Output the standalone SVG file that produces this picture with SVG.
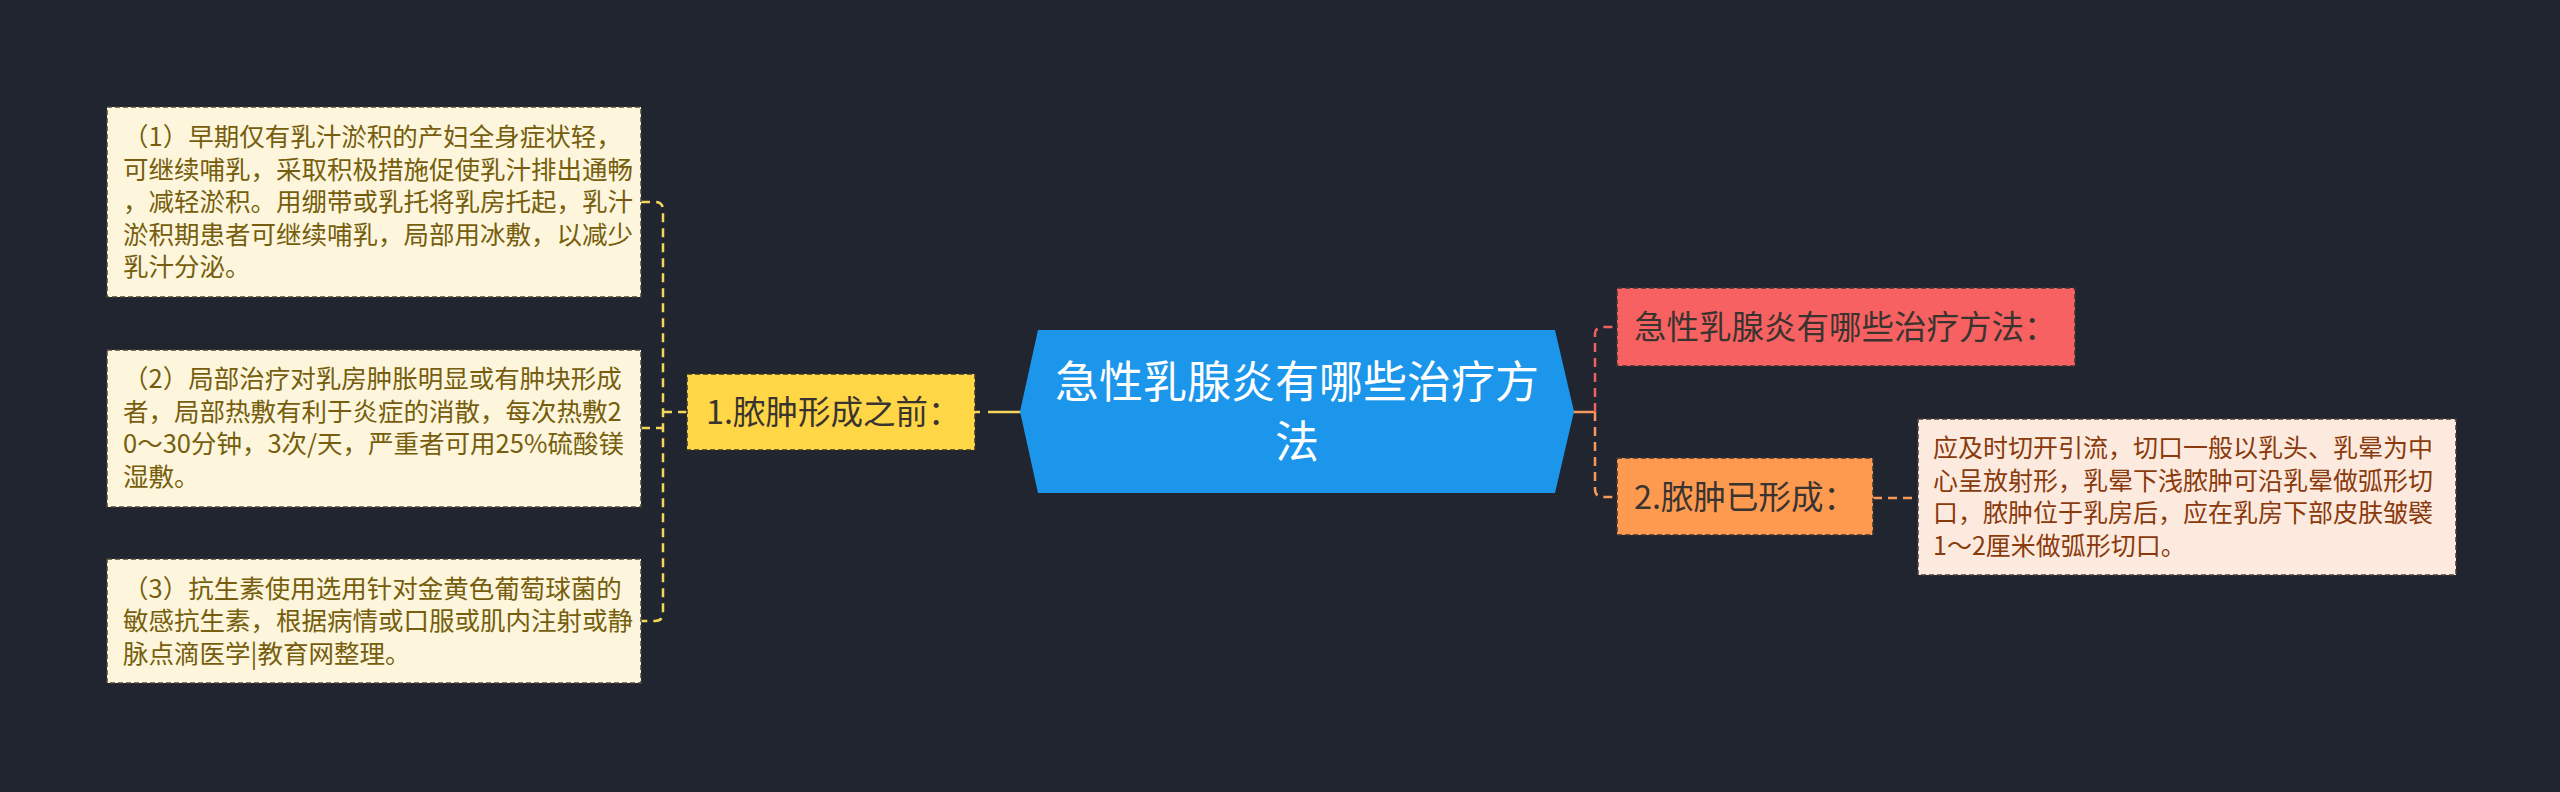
<svg xmlns="http://www.w3.org/2000/svg" width="2560" height="792" viewBox="0 0 2560 792">
<style>
text{font-family:"Noto Sans CJK SC","Noto Sans",sans-serif}
.leaf{fill:#fdf6dc;stroke:#4c4636;stroke-width:1.5;stroke-dasharray:5 3}
.leaft{font-size:25.5px;fill:#765e0e}
.peach{fill:#fdeadf;stroke:#4c3e38;stroke-width:1.5;stroke-dasharray:5 3}
.peacht{font-size:25px;fill:#8a3a0c}
.node{stroke:#3a3530;stroke-width:1.5;stroke-dasharray:5 3}
.nodet{font-size:32.5px;fill:#3a3430}
.c{fill:none;stroke-width:2.5;stroke-dasharray:9 6}
.cy{stroke:#f3d75a}
.cr{stroke:#ef6262}
.co{stroke:#f59a5a}
</style>
<rect width="2560" height="792" fill="#212530"/>
<g id="connectors">
<path class="c cy" d="M641,202 H655 Q663,202 663,210 V613 Q663,621 655,621 H641"/>
<path class="c cy" d="M641,428 H663"/>
<path class="c cy" d="M687,412 H663"/>
<path class="c cy" d="M1021,412 H975" style="stroke-dasharray:33 8"/>
<path fill="none" stroke="#f59a5a" stroke-width="2.5" d="M1572,412 H1595"/>
<path class="c cr" d="M1595,412 V335 Q1595,327 1603,327 H1617"/>
<path class="c co" d="M1595,412 V489 Q1595,497 1603,497 H1617"/>
<path class="c co" d="M1873,498 H1918"/>
</g>
<g id="root">
<polygon points="1020,411.5 1038,330 1555,330 1574,411.5 1555,493 1038,493" fill="#1b96eb"/>
<text x="1297" y="398" font-size="44" fill="#ffffff" text-anchor="middle">急性乳腺炎有哪些治疗方</text>
<text x="1297" y="458" font-size="44" fill="#ffffff" text-anchor="middle">法</text>
</g>
<g id="n1">
<rect class="node" x="687" y="374" width="288" height="76" fill="#fed646"/>
<text class="nodet" x="706" y="423.5">1.脓肿形成之前：</text>
</g>
<g id="n1a">
<rect class="leaf" x="107" y="107" width="534" height="190"/>
<text class="leaft" x="123" y="146">（1）早期仅有乳汁淤积的产妇全身症状轻，</text>
<text class="leaft" x="123" y="178.5">可继续哺乳，采取积极措施促使乳汁排出通畅</text>
<text class="leaft" x="123" y="211">，减轻淤积。用绷带或乳托将乳房托起，乳汁</text>
<text class="leaft" x="123" y="243.5">淤积期患者可继续哺乳，局部用冰敷，以减少</text>
<text class="leaft" x="123" y="276">乳汁分泌。</text>
</g>
<g id="n1b">
<rect class="leaf" x="107" y="350" width="534" height="157"/>
<text class="leaft" x="123" y="388">（2）局部治疗对乳房肿胀明显或有肿块形成</text>
<text class="leaft" x="123" y="420.5">者，局部热敷有利于炎症的消散，每次热敷2</text>
<text class="leaft" x="123" y="453">0～30分钟，3次/天，严重者可用25%硫酸镁</text>
<text class="leaft" x="123" y="485.5">湿敷。</text>
</g>
<g id="n1c">
<rect class="leaf" x="107" y="559" width="534" height="124"/>
<text class="leaft" x="123" y="597.5">（3）抗生素使用选用针对金黄色葡萄球菌的</text>
<text class="leaft" x="123" y="630">敏感抗生素，根据病情或口服或肌内注射或静</text>
<text class="leaft" x="123" y="662.5">脉点滴医学|教育网整理。</text>
</g>
<g id="n2">
<rect class="node" x="1617" y="288" width="458" height="78" fill="#f76161"/>
<text class="nodet" x="1634" y="338.5">急性乳腺炎有哪些治疗方法：</text>
</g>
<g id="n3">
<rect class="node" x="1617" y="458" width="256" height="77" fill="#fe9a50"/>
<text class="nodet" x="1634" y="508.5">2.脓肿已形成：</text>
</g>
<g id="n3a">
<rect class="peach" x="1918" y="419" width="538" height="156"/>
<text class="peacht" x="1933" y="457">应及时切开引流，切口一般以乳头、乳晕为中</text>
<text class="peacht" x="1933" y="489.5">心呈放射形，乳晕下浅脓肿可沿乳晕做弧形切</text>
<text class="peacht" x="1933" y="522">口，脓肿位于乳房后，应在乳房下部皮肤皱襞</text>
<text class="peacht" x="1933" y="554.5">1～2厘米做弧形切口。</text>
</g>
</svg>
